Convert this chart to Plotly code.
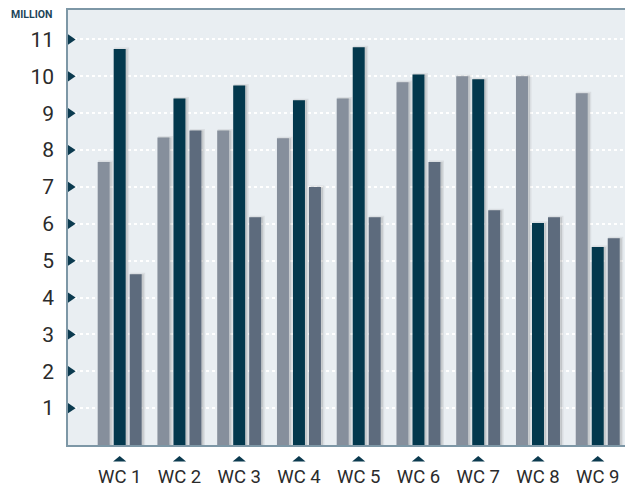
import plotly.graph_objects as go

categories = ['WC 1', 'WC 2', 'WC 3', 'WC 4', 'WC 5', 'WC 6', 'WC 7', 'WC 8', 'WC 9']
series_a = [7.68, 8.34, 8.53, 8.32, 9.40, 9.84, 10.00, 10.00, 9.54]
series_b = [10.74, 9.40, 9.75, 9.35, 10.79, 10.05, 9.92, 6.02, 5.37]
series_c = [4.63, 8.53, 6.18, 7.00, 6.18, 7.68, 6.37, 6.18, 5.61]
y_ticks = [1, 2, 3, 4, 5, 6, 7, 8, 9, 10, 11]

colors = ['#868f9c', '#03384d', '#5d6b7d']
navy = '#0b3a4f'
bg = '#e9eef2'

px_unit = 1 / 59.75          # one pixel in category units
bar_w = 12 * px_unit
centers = [-16 * px_unit, 0, 16 * px_unit]

fig = go.Figure()

# soft drop shadows behind the bars
for vals, c in zip([series_a, series_b, series_c], centers):
    fig.add_trace(go.Bar(
        x=categories, y=vals,
        offset=c - bar_w / 2 + 2 * px_unit, width=bar_w,
        marker=dict(color='rgba(90,90,90,0.18)',
                    line=dict(color='rgba(90,90,90,0.10)', width=3)),
        hoverinfo='skip', showlegend=False,
    ))

for vals, c, col in zip([series_a, series_b, series_c], centers, colors):
    fig.add_trace(go.Bar(
        x=categories, y=vals,
        offset=c - bar_w / 2, width=bar_w,
        marker=dict(color=col, line=dict(width=0)),
        showlegend=False,
    ))

shapes = []
# right pointing markers on the value axis
for v in y_ticks:
    shapes.append(dict(
        type='path', xref='paper', yref='y',
        path=f'M 0,{v - 0.14} L 0.0135,{v} L 0,{v + 0.14} Z',
        fillcolor=navy, line=dict(width=0), layer='above',
    ))
# up pointing markers under the categories
for i, _ in enumerate(categories):
    hw = 6.6 * px_unit
    shapes.append(dict(
        type='path', xref='x', yref='paper',
        path=f'M {i - hw},-0.0379 L {i},-0.0253 L {i + hw},-0.0379 Z',
        fillcolor=navy, line=dict(width=0),
    ))

# page body adds an 8px margin, so the figure is 8px smaller
fig.update_layout(
    width=625, height=479,
    margin=dict(l=60, r=0, t=2, b=42),
    paper_bgcolor='white',
    plot_bgcolor=bg,
    barmode='overlay',
    font=dict(family='Roboto, sans-serif', color='#333333'),
    shapes=shapes,
    annotations=[dict(
        text='<b>MILLION</b>', xref='paper', yref='paper',
        x=-0.0245, y=0.99, xanchor='right', yanchor='middle',
        showarrow=False, font=dict(size=10.5, color='#1d4559'),
    )],
)

fig.update_xaxes(
    range=[-0.865, 8.59],
    automargin=False,
    showgrid=False,
    showline=True, linecolor='#7d97a6', linewidth=1.5, mirror=True,
    ticks='outside', ticklen=14, tickcolor='rgba(0,0,0,0)',
    tickfont=dict(size=18.5, color='#2b2b2b'),
)
fig.update_yaxes(
    range=[0, 11.8],
    automargin=False,
    tickvals=y_ticks,
    showgrid=True, gridcolor='white', griddash='dot', gridwidth=1.5,
    zeroline=False,
    showline=True, linecolor='#7d97a6', linewidth=1.5,
    ticks='outside', ticklen=8, tickcolor='rgba(0,0,0,0)',
    tickfont=dict(size=21, color='#2b2b2b'),
)

fig.write_html('out.html')
